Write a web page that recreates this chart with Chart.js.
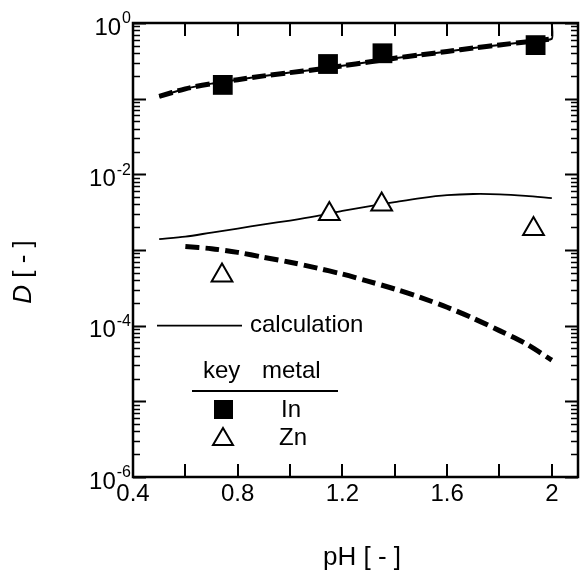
<!DOCTYPE html>
<html><head><meta charset="utf-8">
<script src="https://cdn.jsdelivr.net/npm/chart.js@4/dist/chart.umd.min.js"></script>
<style>html,body{margin:0;padding:0;background:#fff;overflow:hidden;width:584px;height:573px}canvas{display:block}</style>
</head><body>
<canvas id="c" width="592" height="573"></canvas>
<script>
// ---- data ----
const inExpX = [0.743, 1.145, 1.353, 1.938];
const inExpY = [0.152, 0.287, 0.398, 0.51];
const znExpX = [0.74, 1.15, 1.35, 1.93];
const znExpY = [4.6e-4, 3.0e-3, 4.0e-3, 1.9e-3];

const inCalcX = [0.5, 0.6, 0.7, 0.8, 0.9, 1.0, 1.1, 1.2, 1.3, 1.4, 1.5, 1.6, 1.7, 1.8, 1.9, 2.0];
const inCalcY = [0.107, 0.135, 0.158, 0.178, 0.20, 0.221, 0.243, 0.272, 0.305, 0.343, 0.38, 0.42, 0.468, 0.513, 0.562, 0.617];

const znSolidX = [0.5, 0.6, 0.7, 0.8, 0.9, 1.0, 1.1, 1.2, 1.3, 1.4, 1.5, 1.6, 1.7, 1.8, 1.9, 2.0];
const znSolidY = [1.39e-3, 1.5e-3, 1.7e-3, 1.92e-3, 2.18e-3, 2.45e-3, 2.8e-3, 3.28e-3, 3.78e-3, 4.3e-3, 4.85e-3, 5.3e-3, 5.5e-3, 5.45e-3, 5.2e-3, 4.85e-3];

const znDashX = [0.6, 0.7, 0.8, 0.9, 1.0, 1.1, 1.2, 1.3, 1.4, 1.5, 1.6, 1.7, 1.8, 1.9, 2.0];
const znDashY = [1.11e-3, 1.04e-3, 9.3e-4, 8.0e-4, 6.9e-4, 5.8e-4, 4.8e-4, 3.85e-4, 3.05e-4, 2.35e-4, 1.75e-4, 1.25e-4, 8.6e-5, 5.8e-5, 3.5e-5];

const xTickLabels = ['0.4', '0.8', '1.2', '1.6', '2'];
const xTickValues = [0.4, 0.8, 1.2, 1.6, 2.0];
const yTickExps = [0, -2, -4, -6];

const FONT = '"Liberation Sans", Arial, Helvetica, sans-serif';
const pts = (xs, ys) => xs.map((x, i) => ({x, y: ys[i]}));

const inSolid = pts(inCalcX, inCalcY).concat([{x: 2.0, y: 1.0}]);

const decor = {
  id: 'decor',
  afterDatasetsDraw(chart) {
    const ctx = chart.ctx, a = chart.chartArea;
    const xs = chart.scales.x, ys = chart.scales.y;
    ctx.save();
    ctx.strokeStyle = '#000';
    ctx.fillStyle = '#000';
    // frame
    ctx.lineWidth = 2.5;
    ctx.strokeRect(a.left, a.top, a.right - a.left, a.bottom - a.top);
    // x ticks (inward, bottom and top)
    ctx.lineWidth = 2;
    for (let v = 0.6; v < 2.09; v += 0.2) {
      const px = Math.round(xs.getPixelForValue(v));
      ctx.beginPath();
      ctx.moveTo(px, a.bottom); ctx.lineTo(px, a.bottom - 13);
      ctx.moveTo(px, a.top); ctx.lineTo(px, a.top + 13);
      ctx.stroke();
    }
    // y ticks (inward, left and right)
    for (let e = -6; e <= 0; e++) {
      for (let m = 1; m <= 9; m++) {
        if (e === 0 && m > 1) break;
        const v = m * Math.pow(10, e);
        const py = Math.round(ys.getPixelForValue(v)) + 0.5;
        const len = m === 1 ? 13 : 7;
        ctx.lineWidth = m === 1 ? 2 : 1.5;
        ctx.beginPath();
        ctx.moveTo(a.left, py); ctx.lineTo(a.left + len, py);
        ctx.moveTo(a.right, py); ctx.lineTo(a.right - len, py);
        ctx.stroke();
      }
    }
    // x tick labels
    ctx.font = '24px ' + FONT;
    ctx.textAlign = 'center';
    ctx.textBaseline = 'middle';
    xTickLabels.forEach((t, i) => {
      ctx.fillText(t, xs.getPixelForValue(xTickValues[i]), a.bottom + 17);
    });
    // y tick labels 10^n
    yTickExps.forEach(e => {
      const py = ys.getPixelForValue(Math.pow(10, e));
      const sup = String(e);
      ctx.font = '24px ' + FONT;
      const w1 = ctx.measureText('10').width;
      ctx.font = '16px ' + FONT;
      const w2 = ctx.measureText(sup).width;
      const right = 131;
      ctx.textAlign = 'left';
      ctx.font = '24px ' + FONT;
      ctx.fillText('10', right - w1 - w2 - 1, py + 5);
      ctx.font = '16px ' + FONT;
      ctx.fillText(sup, right - w2, py - 4);
    });
    // axis titles
    ctx.font = '26px ' + FONT;
    ctx.textAlign = 'center';
    ctx.fillText('pH [ - ]', 362, 558);
    ctx.save();
    ctx.translate(24, 272);
    ctx.rotate(-Math.PI / 2);
    ctx.font = 'italic 26px ' + FONT;
    const wd = ctx.measureText('D').width;
    ctx.font = '26px ' + FONT;
    const wr = ctx.measureText(' [ - ]').width;
    ctx.textAlign = 'left';
    ctx.font = 'italic 26px ' + FONT;
    ctx.fillText('D', -(wd + wr) / 2, 0);
    ctx.font = '26px ' + FONT;
    ctx.fillText(' [ - ]', -(wd + wr) / 2 + wd, 0);
    ctx.restore();
    // legend
    const ly = ys.getPixelForValue(1e-4);
    ctx.lineWidth = 1.8;
    ctx.beginPath(); ctx.moveTo(157, ly); ctx.lineTo(242, ly); ctx.stroke();
    ctx.font = '24px ' + FONT;
    ctx.textAlign = 'left';
    ctx.fillText('calculation', 250, ly);
    ctx.fillText('key', 203, 371);
    ctx.fillText('metal', 262, 371);
    ctx.lineWidth = 2;
    ctx.beginPath(); ctx.moveTo(192, 391); ctx.lineTo(338, 391); ctx.stroke();
    ctx.fillRect(214, 400, 19, 19);
    ctx.textAlign = 'center';
    ctx.fillText('In', 291, 410);
    ctx.lineWidth = 2;
    ctx.beginPath();
    ctx.moveTo(223, 428); ctx.lineTo(233, 445); ctx.lineTo(213, 445); ctx.closePath();
    ctx.stroke();
    ctx.fillText('Zn', 293, 438);
    ctx.restore();
  }
};

new Chart(document.getElementById('c'), {
  type: 'scatter',
  data: {
    datasets: [
      {label: 'In exp', data: pts(inExpX, inExpY), pointStyle: 'rect', pointRadius: 14, pointHoverRadius: 14,
       backgroundColor: '#000', borderColor: '#000', borderWidth: 0, showLine: false, order: 0},
      {label: 'Zn exp', data: pts(znExpX, znExpY), pointStyle: 'triangle', pointRadius: 12, pointHoverRadius: 12,
       backgroundColor: '#fff', borderColor: '#000', borderWidth: 2, showLine: false, order: 0},
      {label: 'In calc', data: inSolid, showLine: true, pointRadius: 0, borderColor: '#000', borderWidth: 2, tension: 0.15, order: 1},
      {label: 'In calc 2', data: pts(inCalcX, inCalcY), showLine: true, pointRadius: 0, borderColor: '#000', borderWidth: 5, borderDash: [14, 5], tension: 0.3, order: 1},
      {label: 'Zn calc', data: pts(znSolidX, znSolidY), showLine: true, pointRadius: 0, borderColor: '#000', borderWidth: 1.8, tension: 0.3, order: 1},
      {label: 'Zn calc 2', data: pts(znDashX, znDashY), showLine: true, pointRadius: 0, borderColor: '#000', borderWidth: 5, borderDash: [14, 6], tension: 0.3, order: 1}
    ]
  },
  options: {
    responsive: false,
    animation: false,
    devicePixelRatio: 1,
    layout: {padding: {left: 133, top: 23, right: 4, bottom: 96}},
    plugins: {legend: {display: false}, tooltip: {enabled: false}},
    scales: {
      x: {type: 'linear', display: false, min: 0.4, max: 2.1},
      y: {type: 'logarithmic', display: false, min: 1e-6, max: 1}
    }
  },
  plugins: [decor]
});
</script>
</body></html>
